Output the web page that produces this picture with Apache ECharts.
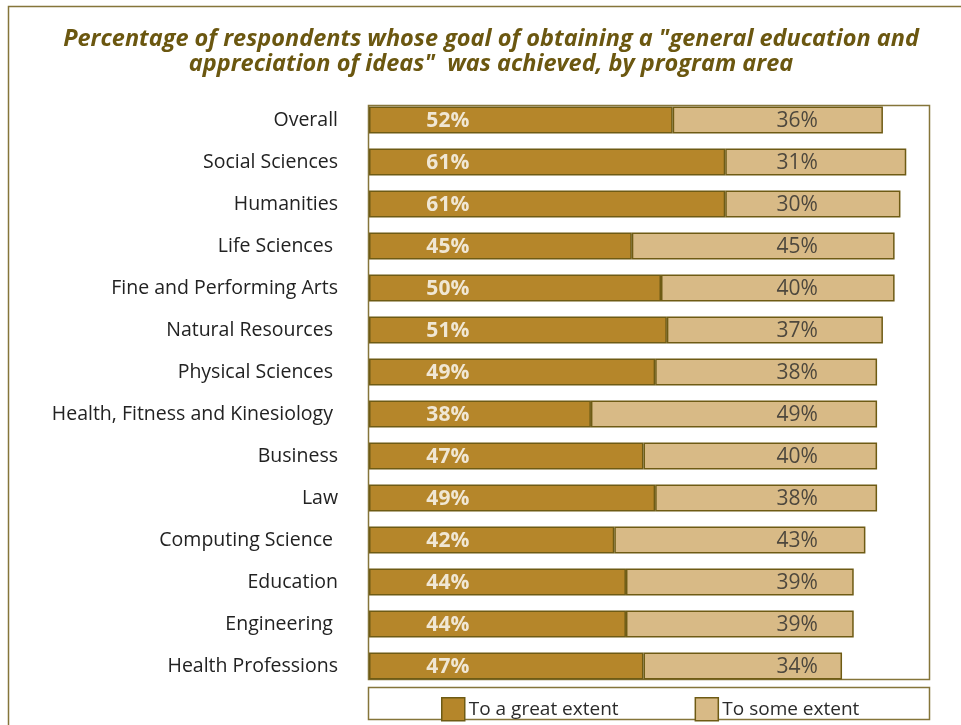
<!DOCTYPE html>
<html>
<head>
<meta charset="utf-8">
<script src="https://cdn.jsdelivr.net/npm/echarts@6/dist/echarts.min.js"></script>
<style>
  html, body { margin: 0; padding: 0; background: #ffffff; }
  #chart { width: 961px; height: 725px; }
</style>
</head>
<body>
<div id="chart"></div>
<script>
// Program areas, top to bottom
const categories = [
  'Overall', 'Social Sciences', 'Humanities', 'Life Sciences ',
  'Fine and Performing Arts', 'Natural Resources ', 'Physical Sciences ',
  'Health, Fitness and Kinesiology ', 'Business', 'Law',
  'Computing Science ', 'Education', 'Engineering ', 'Health Professions'
];
// Share of respondents (%)
const greatExtent = [52, 61, 61, 45, 50, 51, 49, 38, 47, 49, 42, 44, 44, 47];
const someExtent  = [36, 31, 30, 45, 40, 37, 38, 49, 40, 38, 43, 39, 39, 34];

const seriesNames = ['To a great extent', 'To some extent'];
const titleLines = [
  'Percentage of respondents whose goal of obtaining a "general education and',
  'appreciation of ideas"  was achieved, by program area'
];

const FONT = '"Open Sans", "Noto Sans", sans-serif';
const DARK = '#b5862a';
const LIGHT = '#d8ba86';
const EDGE = '#6e5b14';
const FRAME = '#85753a';

// value-column positions (in axis units) where the percentages are printed
const labelColumnGreat = 13.5;
const labelColumnSome = 73.3;

const chart = echarts.init(document.getElementById('chart'), null, { renderer: 'canvas' });

const labelSeries = (col, values, color, bold) => ({
  type: 'scatter',
  silent: true,
  symbolSize: 1,
  itemStyle: { color: 'rgba(0,0,0,0)' },
  z: 5,
  data: values.map((v, i) => [col, categories[i]]),
  label: {
    show: true,
    position: 'inside',
    offset: [0, 1],
    formatter: p => values[p.dataIndex] + '%',
    color: color,
    fontFamily: FONT,
    fontSize: 21,
    fontWeight: bold ? 'bold' : 'normal'
  }
});

chart.setOption({
  animation: false,
  textStyle: { fontFamily: FONT },
  title: {
    text: titleLines.join('\n'),
    left: 486,
    textAlign: 'center',
    top: 22,
    textStyle: {
      color: '#6b5710',
      fontFamily: FONT,
      fontSize: 23.5,
      fontWeight: 'bold',
      fontStyle: 'italic',
      lineHeight: 25
    }
  },
  graphic: [
    { type: 'rect', shape: { x: 8.5, y: 6.5, width: 1000, height: 1000 },
      style: { fill: 'none', stroke: FRAME, lineWidth: 1.5 }, silent: true, z: -10 },
    { type: 'rect', shape: { x: 368.5, y: 105.5, width: 561, height: 574 },
      style: { fill: 'none', stroke: FRAME, lineWidth: 1.5 }, silent: true, z: -5 },
    { type: 'rect', shape: { x: 368.5, y: 687.5, width: 561, height: 32 },
      style: { fill: '#fff', stroke: FRAME, lineWidth: 1.5 }, silent: true, z: -5 }
  ],
  legend: {
    data: seriesNames,
    left: 436,
    top: 692,
    itemWidth: 23,
    itemHeight: 23,
    itemGap: 76,
    icon: 'rect',
    textStyle: { color: '#2b2b2b', fontSize: 19, fontFamily: FONT, padding: [0, 0, 0, -1] },
    itemStyle: { borderColor: EDGE, borderWidth: 1.5 },
    selectedMode: false
  },
  grid: { left: 369, top: 99, width: 584, height: 588 },
  xAxis: {
    type: 'value', min: 0, max: 100, show: false,
    splitLine: { show: false }
  },
  yAxis: {
    type: 'category',
    data: categories,
    inverse: true,
    axisLine: { show: false },
    axisTick: { show: false },
    axisLabel: { color: '#222', fontSize: 19.5, fontFamily: FONT, margin: 31 }
  },
  series: [
    {
      name: seriesNames[0], type: 'bar', stack: 'total', barWidth: 27,
      data: greatExtent,
      itemStyle: { color: DARK, borderColor: EDGE, borderWidth: 1.5 }
    },
    {
      name: seriesNames[1], type: 'bar', stack: 'total', barWidth: 27,
      data: someExtent,
      itemStyle: { color: LIGHT, borderColor: EDGE, borderWidth: 1.5 }
    },
    labelSeries(labelColumnGreat, greatExtent, '#ffffff', true),
    labelSeries(labelColumnSome, someExtent, '#2b2b2b', false)
  ]
});
</script>
</body>
</html>
